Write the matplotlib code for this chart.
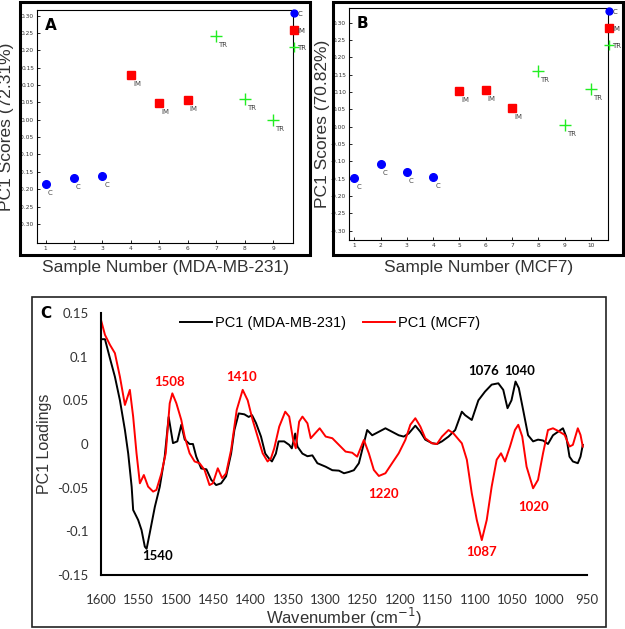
import matplotlib
matplotlib.use("Agg")
import matplotlib.pyplot as plt
from matplotlib.patches import Rectangle

# --- panel A / B scores ---
a_x = [1, 2, 3, 4, 5, 6, 7, 8, 9]
a_y = [-0.185, -0.168, -0.163, 0.128, 0.047, 0.057, 0.240, 0.060, 0.000]
a_grp = ["C", "C", "C", "IM", "IM", "IM", "TR", "TR", "TR"]

b_x = [1, 2, 3, 4, 5, 6, 7, 8, 9, 10]
b_y = [-0.148, -0.108, -0.132, -0.145, 0.102, 0.106, 0.053, 0.160, 0.005, 0.108]
b_grp = ["C", "C", "C", "C", "IM", "IM", "IM", "TR", "TR", "TR"]

score_ticks = [-0.30, -0.25, -0.20, -0.15, -0.10, -0.05, 0.00, 0.05, 0.10, 0.15, 0.20, 0.25, 0.30]

# --- panel C loadings ---
mda_wn = [1600, 1594.7, 1588, 1581.4, 1574.7, 1568, 1563.6, 1559, 1557, 1550.3, 1545.8, 1541.4, 1539,
          1534.8, 1528, 1521.4, 1514.8, 1509.5, 1503.7, 1497.9, 1492.6, 1488, 1481.5, 1477, 1472.6, 1466,
          1459, 1452.6, 1446, 1439.3, 1432.7, 1426, 1421.6, 1415.8, 1408.3, 1402.5, 1398, 1392.7, 1386,
          1380.3, 1375.9, 1371.4, 1366.1, 1362.5, 1355, 1348.3, 1344.8, 1340.3, 1337.2, 1330.6, 1323.9,
          1317.3, 1310.6, 1299.5, 1290.6, 1281.8, 1275, 1268.4, 1261.8, 1255.1, 1248.4, 1244, 1237.3,
          1228.4, 1219.6, 1210.7, 1201.8, 1195.1, 1188.5, 1179.6, 1172.9, 1166.3, 1157.4, 1150.7, 1144,
          1135.2, 1126.3, 1117.4, 1113, 1104.1, 1095.3, 1086.4, 1077.5, 1068.6, 1062, 1056.3, 1051, 1045.6,
          1041.2, 1035.4, 1028.8, 1022.1, 1015.5, 1008.8, 1002.2, 995.5, 988.8, 982.2, 977.8, 973.4,
          968.9, 962.3, 958.7, 955.6]
mda_val = [0.120, 0.120, 0.098, 0.077, 0.050, 0.016, -0.011, -0.049, -0.0755, -0.087, -0.0985, -0.1175, -0.120,
           -0.102, -0.072, -0.049, -0.0145, 0.031, 0.001, 0.003, 0.022, 0.005, 0.000, 0.000, -0.0145, -0.028,
           -0.029, -0.041, -0.047, -0.045, -0.037, -0.011, 0.016, 0.035, 0.034, 0.031, 0.033, 0.024, 0.0085,
           -0.011, -0.016, -0.020, -0.011, 0.003, 0.003, -0.001, -0.005, 0.012, -0.003, -0.011, -0.014,
           -0.013, -0.022, -0.026, -0.030, -0.0305, -0.0335, -0.032, -0.030, -0.022, 0.001, 0.016, 0.010,
           0.014, 0.018, 0.014, 0.010, 0.0085, 0.012, 0.021, 0.014, 0.005, 0.001, 0.000, 0.003,
           0.0085, 0.016, 0.037, 0.033, 0.0275, 0.050, 0.060, 0.068, 0.0695, 0.062, 0.041, 0.050, 0.0715,
           0.064, 0.039, 0.010, 0.003, 0.005, 0.004, 0.000, 0.010, 0.014, 0.018, 0.0085, -0.0145,
           -0.020, -0.022, -0.0145, -0.001]

mcf_wn = [1600, 1594.7, 1588, 1581.4, 1574.7, 1568, 1561.4, 1557, 1552.5, 1548, 1542.7, 1537, 1530.3,
          1525.9, 1519.2, 1513.4, 1508.1, 1504.6, 1499.2, 1492.6, 1488.1, 1481.5, 1474.8, 1468.2, 1461.5,
          1454.9, 1450.4, 1443.8, 1438, 1432.7, 1426, 1418.5, 1410.5, 1403.8, 1397.2, 1390.5, 1383.8,
          1377.2, 1372.7, 1368.3, 1361.6, 1353.6, 1348.3, 1343, 1339.5, 1335, 1330.6, 1323.9, 1319.5,
          1312.8, 1307.5, 1299.5, 1290.6, 1281.8, 1272.9, 1264, 1257.4, 1248.4, 1241.8, 1235.1, 1228.4,
          1219.6, 1210.7, 1201.8, 1193, 1186.3, 1179.6, 1172.9, 1166.3, 1157.4, 1150.7, 1144, 1135.2,
          1128.5, 1117.4, 1110.7, 1104.1, 1097.4, 1090.7, 1084.1, 1077.5, 1070.8, 1065, 1059.7, 1053,
          1046.4, 1041.9, 1036.6, 1030.8, 1022.1, 1015.5, 1008.8, 1002.2, 995.5, 986.6, 979.9, 973.4,
          968.9, 962.3, 958.7, 955.6]
mcf_val = [0.142, 0.125, 0.1135, 0.104, 0.077, 0.0447, 0.062, 0.0314, -0.0106, -0.045, -0.0355, -0.0488, -0.0545,
           -0.0526, -0.0336, -0.0106, 0.0466, 0.058, 0.0466, 0.0275, 0.0084, -0.0106, -0.020, -0.022, -0.0297,
           -0.047, -0.045, -0.0278, -0.039, -0.0336, -0.0068, 0.039, 0.062, 0.050, 0.0275, 0.0084, -0.0106,
           -0.020, -0.0164, -0.0049, 0.020, 0.037, 0.0314, 0.0046, -0.0049, 0.0256, 0.0314, 0.0237, 0.0066,
           0.013, 0.018, 0.0085, 0.0066, -0.001, -0.0087, -0.010, -0.0145, 0.0046, -0.0106, -0.0297, -0.0366,
           -0.0335, -0.022, -0.0106, 0.0046, 0.022, 0.0295, 0.020, 0.0066, 0.0008, 0.0, 0.0085, 0.016,
           0.012, 0.0008, -0.018, -0.0565, -0.087, -0.110, -0.087, -0.0488, -0.018, -0.0106, -0.020, -0.0029,
           0.016, 0.022, 0.0085, -0.026, -0.0507, -0.041, -0.0106, 0.016, 0.018, 0.014, 0.0104, -0.0029,
           -0.001, 0.018, 0.0104, -0.003]

peak_text = ["1540", "1508", "1410", "1076", "1040", "1220", "1087", "1020"]
peak_wn = [1524, 1509, 1412, 1089, 1040, 1222, 1091, 1022]
peak_val = [-0.128, 0.071, 0.077, 0.084, 0.084, -0.057, -0.124, -0.0725]
peak_color = ["black", "red", "red", "black", "black", "red", "red", "red"]

wn_ticks = list(range(1600, 949, -50))
load_ticks = [-0.15, -0.1, -0.05, 0, 0.05, 0.1, 0.15]
load_labels = ["-0.15", "-0.1", "-0.05", "0", "0.05", "0.1", "0.15"]

styles = {
    "C": dict(marker="o", color="#0000ff", ms=5.5, ls="none"),
    "IM": dict(marker="s", color="#ff0000", ms=6, ls="none"),
    "TR": dict(marker="+", color="#22ee22", ms=8, mew=1.0, ls="none"),
}

W, H = 625, 629
fig = plt.figure(figsize=(W / 100, H / 100), dpi=100)


def frac(x0, y0, x1, y1):
    return [x0 / W, 1 - y1 / H, (x1 - x0) / W, (y1 - y0) / H]


def score_panel(rect, frame, xs, ys, grp, xlim, ylim, letter, ylab, xlab, ylab_x, xlab_y):
    fig.add_artist(Rectangle(frame[:2], frame[2], frame[3], transform=fig.transFigure,
                             fill=False, lw=2.2, ec="black"))
    ax = fig.add_axes(rect)
    for g in ["C", "IM", "TR"]:
        gx = [x for x, k in zip(xs, grp) if k == g]
        gy = [y for y, k in zip(ys, grp) if k == g]
        ax.plot(gx, gy, label=g, **styles[g])
        for x, y in zip(gx, gy):
            ax.annotate(g, (x, y), xytext=(1.5, -6.5), textcoords="offset points",
                        fontsize=5, color="#444444", ha="left", va="center")
    ax.set_xlim(*xlim)
    ax.set_ylim(*ylim)
    ax.set_xticks(xs)
    ax.set_yticks(score_ticks)
    ax.set_yticklabels(["%.2f" % t for t in score_ticks])
    ax.tick_params(direction="in", length=2, width=0.6, labelsize=4.2, colors="black",
                   labelcolor="#333333", pad=2)
    for s in ax.spines.values():
        s.set_linewidth(0.8)
    ax.text(0.03, 0.965, letter, transform=ax.transAxes, fontsize=11, fontweight="bold",
            va="top", ha="left")
    ax.set_ylabel(ylab, fontsize=12.5, color="#333333", family="Liberation Sans")
    ax.yaxis.set_label_coords(ylab_x, 0.5)
    ax.set_xlabel(xlab, fontsize=12.5, color="#333333", family="Liberation Sans")
    ax.xaxis.set_label_coords(0.5, xlab_y)
    leg = ax.legend(loc="upper left", bbox_to_anchor=(0.995, 1.0), frameon=False, fontsize=5,
                    handlelength=0.6, handletextpad=0.1, labelspacing=1.6, borderaxespad=0,
                    borderpad=0.1, markerscale=0.9)
    for t in leg.get_texts():
        t.set_color("#333333")
    return ax


score_panel(frac(37, 10, 293, 243), frac(20, 2, 310, 255), a_x, a_y, a_grp,
            (0.7, 9.7), (-0.355, 0.316), "A", "PC1 Scores (72.31%)",
            "Sample Number (MDA-MB-231)", -0.088, -0.072)
score_panel(frac(349, 8, 608, 240), frac(333, 2, 623, 255), b_x, b_y, b_grp,
            (0.8, 10.65), (-0.327, 0.342), "B", "PC1 Scores (70.82%)",
            "Sample Number (MCF7)", -0.072, -0.088)

# panel C
fr = frac(32, 297, 606, 627)
fig.add_artist(Rectangle(fr[:2], fr[2], fr[3], transform=fig.transFigure,
                         fill=False, lw=1.2, ec="#222222"))
axc = fig.add_axes(frac(101, 313, 587, 575))
axc.plot(mda_wn, mda_val, color="black", lw=1.4, label="PC1 (MDA-MB-231)")
axc.plot(mcf_wn, mcf_val, color="#ff0000", lw=1.4, label="PC1 (MCF7)")
for t, w, v, c in zip(peak_text, peak_wn, peak_val, peak_color):
    axc.text(w, v, t, color=c, fontsize=9.5, fontweight="bold", family="Lato",
             ha="center", va="center")
axc.set_xlim(1600, 950)
axc.set_ylim(-0.15, 0.15)
axc.set_xticks(wn_ticks)
axc.set_yticks(load_ticks)
axc.set_yticklabels(load_labels)
axc.tick_params(length=0, labelsize=9.5, labelcolor="#333333")
axc.tick_params(axis="x", pad=14)
axc.tick_params(axis="y", pad=9)
for lab in axc.get_xticklabels() + axc.get_yticklabels():
    lab.set_family("Lato")
for s in ["top", "right"]:
    axc.spines[s].set_visible(False)
for s in ["left", "bottom"]:
    axc.spines[s].set_linewidth(1.5)
axc.set_ylabel("PC1 Loadings", fontsize=11.5, color="#333333", family="Liberation Sans")
axc.yaxis.set_label_coords(-0.10, 0.5)
axc.set_xlabel("Wavenumber (cm$^{-1}$)", fontsize=12, color="#333333", family="Liberation Sans")
axc.xaxis.set_label_coords(0.5, -0.118)
fig.text(40 / W, 1 - 313 / H, "C", fontsize=11, fontweight="bold", va="center", ha="left")
handles, labels = axc.get_legend_handles_labels()
fig.legend(handles, labels, loc="center", bbox_to_anchor=(330 / W, 1 - 323 / H), ncol=2,
           frameon=False, handlelength=2.2, handletextpad=0.2, columnspacing=1.2,
           prop={"family": "Liberation Sans", "size": 10.5})

fig.savefig("out.png", dpi=100)
